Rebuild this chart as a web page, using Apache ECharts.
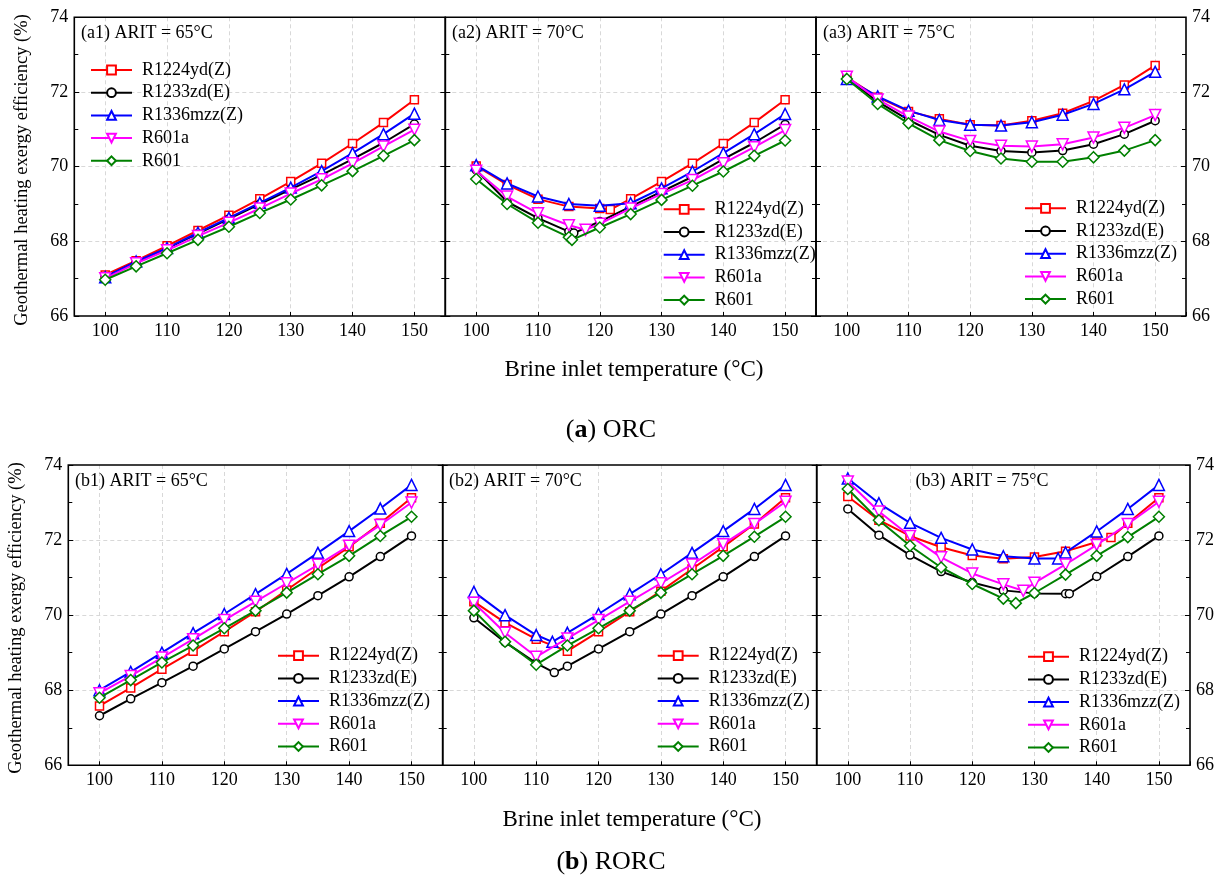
<!DOCTYPE html>
<html><head><meta charset="utf-8">
<script src="https://cdn.jsdelivr.net/npm/echarts@6/dist/echarts.min.js"></script>
<style>html,body{margin:0;padding:0;background:#fff}#c{width:1222px;height:876px}</style>
</head><body><div id="c"></div><script>
// ---------- DATA ----------
const TEMPS = [100,105,110,115,120,125,130,135,140,145,150];
const SERIES_NAMES = ['R1224yd(Z)','R1233zd(E)','R1336mzz(Z)','R601a','R601'];
const Y_TICKS = [66,68,70,72,74];
const X_TICKS = [100,110,120,130,140,150];
const PANEL_LABELS = ['(a1) ARIT = 65°C','(a2) ARIT = 70°C','(a3) ARIT = 75°C','(b1) ARIT = 65°C','(b2) ARIT = 70°C','(b3) ARIT = 75°C'];

// (a1) ORC, ARIT = 65°C  (values at TEMPS)
const A1_R1224YD = [67.10,67.48,67.88,68.29,68.70,69.14,69.60,70.09,70.62,71.18,71.79];
const A1_R1233ZD = [67.05,67.44,67.81,68.21,68.60,69.00,69.39,69.78,70.20,70.64,71.14];
const A1_R1336MZZ = [67.04,67.46,67.82,68.23,68.63,69.03,69.44,69.88,70.36,70.87,71.42];
const A1_R601A = [67.01,67.41,67.76,68.14,68.50,68.88,69.28,69.66,70.09,70.54,70.99];
const A1_R601 = [66.97,67.33,67.68,68.04,68.39,68.76,69.12,69.50,69.88,70.29,70.71];

// (a2) ORC, ARIT = 70°C  ([temperature, value])
const A2_R1224YD = [[100,70.02],[105,69.52],[110,69.13],[115,68.93],[120,68.88],[121.7,68.85],[125,69.14],[130,69.60],[135,70.09],[140,70.62],[145,71.18],[150,71.79]];
const A2_R1233ZD = [[100,69.91],[105,69.06],[110,68.62],[115,68.26],[115.8,68.22],[120,68.53],[125,68.93],[130,69.33],[135,69.73],[140,70.20],[145,70.64],[150,71.13]];
const A2_R1336MZZ = [[100,70.04],[105,69.55],[110,69.20],[115,69.00],[120,68.95],[125,69.02],[130,69.42],[135,69.87],[140,70.36],[145,70.87],[150,71.41]];
const A2_R601A = [[100,69.89],[105,69.20],[110,68.75],[115,68.43],[117.7,68.31],[120,68.47],[125,68.88],[130,69.27],[135,69.64],[140,70.09],[145,70.52],[150,70.98]];
const A2_R601 = [[100,69.67],[105,69.00],[110,68.50],[115,68.11],[115.5,68.04],[120,68.37],[125,68.73],[130,69.11],[135,69.49],[140,69.87],[145,70.29],[150,70.70]];

// (a3) ORC, ARIT = 75°C  (values at TEMPS)
const A3_R1224YD = [72.39,71.86,71.48,71.28,71.12,71.10,71.23,71.43,71.76,72.19,72.71];
const A3_R1233ZD = [72.38,71.74,71.25,70.85,70.56,70.42,70.38,70.43,70.60,70.87,71.23];
const A3_R1336MZZ = [72.35,71.88,71.50,71.25,71.12,71.10,71.19,71.39,71.68,72.07,72.54];
const A3_R601A = [72.41,71.80,71.34,70.94,70.69,70.56,70.54,70.60,70.78,71.04,71.38];
const A3_R601 = [72.35,71.68,71.16,70.71,70.42,70.22,70.13,70.13,70.25,70.43,70.71];

// (b1) RORC, ARIT = 65°C  (values at TEMPS)
const B1_R1224YD = [67.58,68.06,68.56,69.04,69.56,70.09,70.67,71.25,71.82,72.45,73.13];
const B1_R1233ZD = [67.32,67.77,68.20,68.64,69.10,69.56,70.03,70.52,71.02,71.56,72.11];
const B1_R1336MZZ = [68.00,68.49,69.00,69.52,70.03,70.56,71.10,71.66,72.24,72.84,73.47];
const B1_R601A = [67.92,68.38,68.87,69.36,69.87,70.36,70.85,71.34,71.85,72.40,73.00];
const B1_R601 = [67.80,68.27,68.74,69.19,69.65,70.12,70.60,71.09,71.58,72.11,72.62];

// (b2) RORC, ARIT = 70°C  ([temperature, value])
const B2_R1224YD = [[100,70.36],[105,69.80],[110,69.36],[115,69.04],[120,69.56],[125,70.09],[130,70.64],[135,71.23],[140,71.82],[145,72.43],[150,73.13]];
const B2_R1233ZD = [[100,69.93],[105,69.28],[110,68.72],[112.9,68.47],[115,68.64],[120,69.10],[125,69.56],[130,70.03],[135,70.52],[140,71.02],[145,71.56],[150,72.11]];
const B2_R1336MZZ = [[100,70.62],[105,70.00],[110,69.47],[112.6,69.29],[115,69.53],[120,70.03],[125,70.56],[130,71.09],[135,71.66],[140,72.24],[145,72.83],[150,73.47]];
const B2_R601A = [[100,70.33],[105,69.53],[110,68.89],[115,69.38],[120,69.87],[125,70.36],[130,70.85],[135,71.35],[140,71.89],[145,72.43],[150,73.02]];
const B2_R601 = [[100,70.12],[105,69.29],[110,68.68],[115,69.19],[120,69.65],[125,70.12],[130,70.60],[135,71.09],[140,71.58],[145,72.09],[150,72.62]];

// (b3) RORC, ARIT = 75°C  ([temperature, value])
const B3_R1224YD = [[100,73.16],[105,72.53],[110,72.11],[115,71.81],[120,71.59],[125,71.50],[130,71.55],[135,71.70],[140,71.95],[142.3,72.07],[145,72.45],[150,73.13]];
const B3_R1233ZD = [[100,72.83],[105,72.13],[110,71.60],[115,71.16],[120,70.87],[125,70.66],[130,70.58],[135,70.57],[135.6,70.57],[140,71.03],[145,71.56],[150,72.11]];
const B3_R1336MZZ = [[100,73.64],[105,72.98],[110,72.46],[115,72.06],[120,71.75],[125,71.57],[130,71.51],[133.8,71.51],[135,71.67],[140,72.23],[145,72.83],[150,73.47]];
const B3_R601A = [[100,73.56],[105,72.76],[110,72.11],[115,71.54],[120,71.11],[125,70.82],[128.2,70.65],[130,70.86],[135,71.35],[140,71.87],[145,72.43],[150,73.02]];
const B3_R601 = [[100,73.36],[105,72.53],[110,71.85],[115,71.27],[120,70.83],[125,70.44],[127,70.32],[130,70.59],[135,71.08],[140,71.58],[145,72.08],[150,72.62]];

// ---------- BUILD ----------
const zipT = vals => vals.map((v,i)=>[TEMPS[i], v]);
const PANELS = [
  [zipT(A1_R1224YD), zipT(A1_R1233ZD), zipT(A1_R1336MZZ), zipT(A1_R601A), zipT(A1_R601)],
  [A2_R1224YD, A2_R1233ZD, A2_R1336MZZ, A2_R601A, A2_R601],
  [zipT(A3_R1224YD), zipT(A3_R1233ZD), zipT(A3_R1336MZZ), zipT(A3_R601A), zipT(A3_R601)],
  [zipT(B1_R1224YD), zipT(B1_R1233ZD), zipT(B1_R1336MZZ), zipT(B1_R601A), zipT(B1_R601)],
  [B2_R1224YD, B2_R1233ZD, B2_R1336MZZ, B2_R601A, B2_R601],
  [B3_R1224YD, B3_R1233ZD, B3_R1336MZZ, B3_R601A, B3_R601]
];

const FONT = '"Liberation Serif","Times New Roman",serif';
const COLORS = ['#ff0000','#000000','#0000ff','#ff00ff','#008000'];
const SYMBOLS = ['rect','circle','triangle','path://M0,0L10,0L5,8.66Z','diamond'];
const SYM_SIZE = [8,8,11,11,11];

const GRIDS = [
  {left:74.3, top:17.3, width:371, height:298.7},
  {left:445.3, top:17.3, width:370.7, height:298.7},
  {left:816, top:17.3, width:370, height:298.7},
  {left:68.3, top:465, width:374.4, height:300.3},
  {left:442.7, top:465, width:374, height:300.3},
  {left:816.7, top:465, width:373.3, height:300.3}
];
const LEGEND_POS = [
  {left:90, top:60},
  {left:662.7, top:199.3},
  {left:1024, top:198.3},
  {left:277, top:645.7},
  {left:656.7, top:645.7},
  {left:1027, top:646.7}
];
const LABEL_POS = [
  {x:81, y:33, align:'left'},
  {x:452, y:33, align:'left'},
  {x:823, y:33, align:'left'},
  {x:75, y:481, align:'left'},
  {x:449, y:481, align:'left'},
  {x:982, y:481, align:'center'}
];

const SPLIT = {color:'#d8d8d8', type:[4,3], width:1};
const grid = [], xAxis = [], yAxis = [], series = [], legend = [], graphic = [];
GRIDS.forEach((g,i)=>{
  grid.push(Object.assign({show:false, containLabel:false}, g));
  xAxis.push({
    type:'value', gridIndex:i, min:95, max:155, splitNumber:6,
    axisLine:{show:false},
    axisTick:{show:true, inside:true, length:4, lineStyle:{color:'#000', width:1}},
    axisLabel:{show:true, fontFamily:FONT, fontSize:18, color:'#000', margin:6,
      formatter: v => X_TICKS.indexOf(v) >= 0 ? String(v) : ''},
    splitLine:{show:true, showMinLine:false, showMaxLine:false, lineStyle:SPLIT}
  });
  const leftLabels = (i===0 || i===3), rightLabels = (i===2 || i===5);
  const yBase = {
    type:'value', gridIndex:i, min:Y_TICKS[0], max:Y_TICKS[Y_TICKS.length-1], interval:2,
    axisLine:{show:false},
    axisTick:{show:true, inside:true, length:5, lineStyle:{color:'#000', width:1}},
    minorTick:{show:true, splitNumber:2, length:4, lineStyle:{color:'#000', width:1}},
  };
  yAxis.push(Object.assign({}, yBase, {position:'left',
    axisLabel:{show:leftLabels, fontFamily:FONT, fontSize:18, color:'#000', margin:6},
    splitLine:{show:true, showMinLine:false, showMaxLine:false, lineStyle:SPLIT}}));
  yAxis.push(Object.assign({}, yBase, {position:'right',
    axisLabel:{show:rightLabels, fontFamily:FONT, fontSize:18, color:'#000', margin:6},
    splitLine:{show:false}}));
  PANELS[i].forEach((data,k)=>{
    series.push({
      type:'line', name:SERIES_NAMES[k], xAxisIndex:i, yAxisIndex:2*i, data:data,
      symbol:SYMBOLS[k], symbolSize:SYM_SIZE[k], showAllSymbol:true,
      lineStyle:{color:COLORS[k], width:2},
      itemStyle:{color:'#ffffff', borderColor:COLORS[k], borderWidth:1.5},
      emphasis:{disabled:true}, animation:false, z:2+k
    });
  });
  legend.push(Object.assign({
    orient:'vertical', data:SERIES_NAMES, itemWidth:41, itemHeight:11, itemGap:2.7,
    padding:0, selectedMode:false,
    textStyle:{fontFamily:FONT, fontSize:18, color:'#000', lineHeight:20, padding:[0,0,0,5]}
  }, LEGEND_POS[i]));
  const lp = LABEL_POS[i];
  graphic.push({type:'text', x:lp.x, y:lp.y, z:100,
    style:{text:PANEL_LABELS[i], fontFamily:FONT, fontSize:18, fill:'#000', align:lp.align, verticalAlign:'middle'}});
  // panel frame
  graphic.push({type:'rect', z:100, silent:true,
    shape:{x:g.left, y:g.top, width:g.width, height:g.height},
    style:{fill:'none', stroke:'#000', lineWidth:1.6}});
});

// axis titles and captions
const YTITLE = 'Geothermal heating exergy efficiency (%)';
const XTITLE = 'Brine inlet temperature (°C)';
graphic.push({type:'text', x:22, y:170, rotation:Math.PI/2,
  style:{text:YTITLE, fontFamily:FONT, fontSize:18.5, fill:'#000', align:'center', verticalAlign:'middle'}});
graphic.push({type:'text', x:16, y:618, rotation:Math.PI/2,
  style:{text:YTITLE, fontFamily:FONT, fontSize:18.5, fill:'#000', align:'center', verticalAlign:'middle'}});
graphic.push({type:'text', x:634, y:370,
  style:{text:XTITLE, fontFamily:FONT, fontSize:23, fill:'#000', align:'center', verticalAlign:'middle'}});
graphic.push({type:'text', x:632, y:820,
  style:{text:XTITLE, fontFamily:FONT, fontSize:23, fill:'#000', align:'center', verticalAlign:'middle'}});
const rich = {p:{fontFamily:FONT, fontSize:26, fill:'#000'}, b:{fontFamily:FONT, fontSize:26, fontWeight:'bold', fill:'#000'}};
graphic.push({type:'text', x:611, y:430,
  style:{text:'{p|(}{b|a}{p|) ORC}', rich:rich, align:'center', verticalAlign:'middle'}});
graphic.push({type:'text', x:611, y:862,
  style:{text:'{p|(}{b|b}{p|) RORC}', rich:rich, align:'center', verticalAlign:'middle'}});

const chart = echarts.init(document.getElementById('c'), null, {renderer:'canvas'});
chart.setOption({
  backgroundColor:'#fff', animation:false,
  grid, xAxis, yAxis, series, legend, graphic
});
</script></body></html>
